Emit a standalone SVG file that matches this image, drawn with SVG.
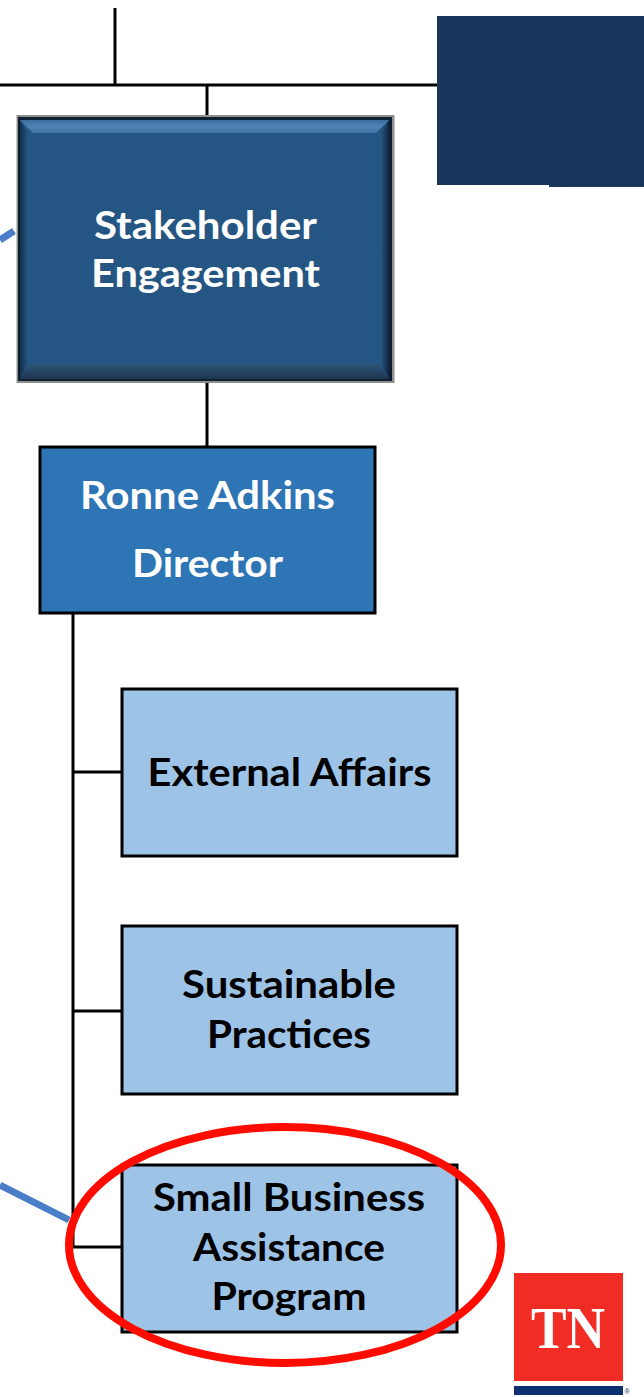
<svg xmlns="http://www.w3.org/2000/svg" width="644" height="1397" viewBox="0 0 644 1397">
<style>
.w{font-family:Lato,"Open Sans",sans-serif;font-weight:700;font-size:39px;fill:#fff;text-anchor:middle}
.b{font-family:Lato,"Open Sans",sans-serif;font-weight:700;font-size:39px;fill:#000;text-anchor:middle}
.c{stroke:#000;stroke-width:3;fill:none}
.l{fill:#9dc3e6;stroke:#000;stroke-width:3}
.bl{stroke:#4a7ec8;stroke-width:7;fill:none}
</style>
<defs>
<linearGradient id="bt" x1="0" y1="0" x2="0" y2="1"><stop offset="0" stop-color="#3a6c9e"/><stop offset=".5" stop-color="#5283b5"/><stop offset="1" stop-color="#3f72a4"/></linearGradient>
<linearGradient id="bb" x1="0" y1="0" x2="0" y2="1"><stop offset="0" stop-color="#2d5478"/><stop offset="1" stop-color="#1f3550"/></linearGradient>
<linearGradient id="bl" x1="0" y1="0" x2="1" y2="0"><stop offset="0" stop-color="#142f4b"/><stop offset="1" stop-color="#255582"/></linearGradient>
<linearGradient id="br" x1="0" y1="0" x2="1" y2="0"><stop offset="0" stop-color="#255582"/><stop offset="1" stop-color="#0f2740"/></linearGradient>
</defs>
<rect width="644" height="1397" fill="#fff"/>
<g id="connectors">
<path class="c" d="M115 8V85M0 85H437M207 85V118M207 381V447M73 613V1247M73 772H122M73 1011H122M73 1247H122"/>
<path class="bl" d="M0 240L14 231M0 1185L69 1220"/>
</g>
<g id="navy-box"><path d="M437 16H644V187H549V185H437Z" fill="#1b365d"/></g>
<g id="stakeholder-engagement">
<rect x="16.500" y="115" width="378" height="268" fill="#8f8f8f"/>
<rect x="18" y="117" width="374" height="264" fill="#0d2033"/>
<rect x="20" y="120" width="369" height="259" fill="#255582"/>
<path d="M20 120L28 133V364L20 379Z" fill="url(#bl)"/>
<path d="M389 120L381 133V364L389 379Z" fill="url(#br)"/>
<path d="M20 379L30 364H379L389 379Z" fill="url(#bb)"/>
<path d="M20 120H389L376 133H33Z" fill="url(#bt)"/>
<text class="w" x="205.500" y="238.500" textLength="223" lengthAdjust="spacingAndGlyphs">Stakeholder</text>
<text class="w" x="205.500" y="286.500" textLength="229" lengthAdjust="spacingAndGlyphs">Engagement</text>
</g>
<g id="ronne-adkins">
<rect x="40" y="447" width="335" height="166" fill="#2e75b6" stroke="#000" stroke-width="3"/>
<text class="w" x="207.500" y="508.500" textLength="255" lengthAdjust="spacingAndGlyphs">Ronne Adkins</text>
<text class="w" x="207.500" y="576.500" textLength="151" lengthAdjust="spacingAndGlyphs">Director</text>
</g>
<g id="external-affairs">
<rect class="l" x="122" y="689" width="335" height="167"/>
<text class="b" x="289.500" y="785.500" textLength="284" lengthAdjust="spacingAndGlyphs">External Affairs</text>
</g>
<g id="sustainable-practices">
<rect class="l" x="122" y="926" width="335" height="168"/>
<text class="b" x="289" y="997.500" textLength="214" lengthAdjust="spacingAndGlyphs">Sustainable</text>
<text class="b" x="289" y="1047.500" textLength="164" lengthAdjust="spacingAndGlyphs">Practices</text>
</g>
<g id="small-business">
<rect class="l" x="122" y="1165" width="335" height="167"/>
<text class="b" x="289" y="1210.500" textLength="272" lengthAdjust="spacingAndGlyphs">Small Business</text>
<text class="b" x="289" y="1260.500" textLength="192" lengthAdjust="spacingAndGlyphs">Assistance</text>
<text class="b" x="289" y="1309.500" textLength="155" lengthAdjust="spacingAndGlyphs">Program</text>
</g>
<ellipse id="highlight" cx="285" cy="1245" rx="216" ry="118" fill="none" stroke="#fe0c00" stroke-width="8"/>
<g id="tn-logo">
<rect x="514" y="1273" width="109" height="108" fill="#f02c24"/>
<rect x="514" y="1386" width="109" height="9" fill="#0d3070"/>
<text x="568" y="1348" font-family="'Liberation Serif',serif" font-weight="700" font-size="60" fill="#fff" text-anchor="middle" textLength="74" lengthAdjust="spacingAndGlyphs">TN</text>
<text x="627" y="1394" font-family="'Liberation Sans',sans-serif" font-size="7" fill="#0d3070" text-anchor="middle">®</text>
</g>
</svg>
